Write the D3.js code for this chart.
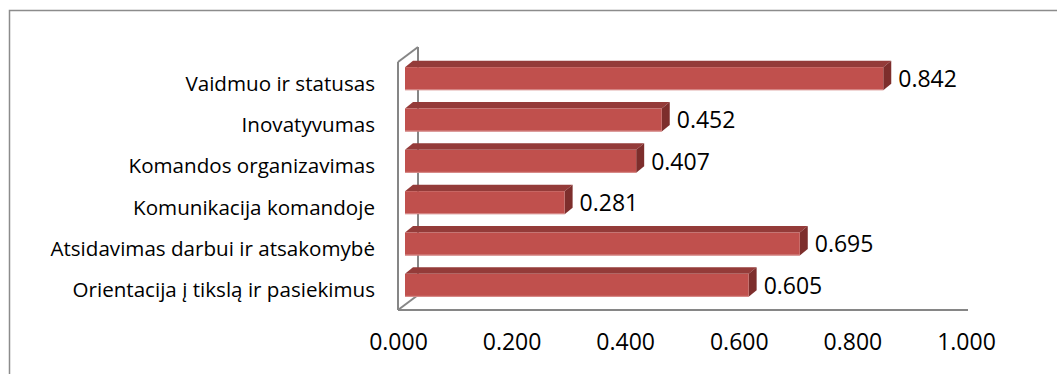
<!DOCTYPE html>
<html>
<head>
<meta charset="utf-8">
<script src="https://cdn.jsdelivr.net/npm/d3@7"></script>
<style>
  html, body { margin: 0; padding: 0; background: #fff; }
  svg { display: block; }
  text { font-family: "Open Sans", Lato, sans-serif; fill: #000; }
</style>
</head>
<body>
<svg id="chart" width="1057" height="374"></svg>
<script>
// Categories listed bottom-to-top, as the series is entered in the sheet
const categories = [
  "Orientacija į tikslą ir pasiekimus",
  "Atsidavimas darbui ir atsakomybė",
  "Komunikacija komandoje",
  "Komandos organizavimas",
  "Inovatyvumas",
  "Vaidmuo ir statusas"
];
const values = [0.605, 0.695, 0.281, 0.407, 0.452, 0.842];
const tickValues = [0, 0.2, 0.4, 0.6, 0.8, 1.0];

const data = categories.map((c, i) => ({ category: c, value: values[i] }));

const svg = d3.select("#chart");

// Front plane of the 3-D plot box
const plot = { left: 398, right: 966, top: 62, bottom: 310 };
// Full depth of the box (receding up and to the right)
const depth = { dx: 20, dy: -15 };
// Bar placement inside the depth
const barFront = { dx: 7, dy: -4 };
const barDepth = { dx: 8, dy: -6.5 };

const x = d3.scaleLinear().domain([0, 1]).range([plot.left, plot.right]);
const y = d3.scaleBand()
  .domain(categories.slice().reverse())
  .range([plot.top, plot.bottom])
  .paddingInner(0.444)
  .paddingOuter(0.222);

const colors = {
  front: "#C0504D",
  top: "#943B39",
  side: "#7D2E2C",
  edge: "#D9908E",
  axis: "#868686",
  border: "#8C8C8C"
};

// Chart area border
svg.append("rect")
  .attr("x", 9.5).attr("y", 10.5)
  .attr("width", 1100).attr("height", 400)
  .attr("fill", "none")
  .attr("stroke", colors.border)
  .attr("stroke-width", 1.5);

// Walls / floor outline of the 3-D box
const axisG = svg.append("g")
  .attr("fill", "none")
  .attr("stroke", colors.axis)
  .attr("stroke-width", 2);

const x0 = x(0);
// front vertical edge
axisG.append("line")
  .attr("x1", x0).attr("y1", plot.top)
  .attr("x2", x0).attr("y2", plot.bottom);
// back vertical edge
axisG.append("line")
  .attr("x1", x0 + depth.dx).attr("y1", plot.top + depth.dy)
  .attr("x2", x0 + depth.dx).attr("y2", plot.bottom + depth.dy);
// top diagonal
axisG.append("line")
  .attr("x1", x0).attr("y1", plot.top)
  .attr("x2", x0 + depth.dx).attr("y2", plot.top + depth.dy);
// floor diagonal
axisG.append("line")
  .attr("x1", x0).attr("y1", plot.bottom)
  .attr("x2", x0 + depth.dx).attr("y2", plot.bottom + depth.dy);
// floor front edge (value axis)
axisG.append("line")
  .attr("x1", x0).attr("y1", plot.bottom)
  .attr("x2", x(1) + 2).attr("y2", plot.bottom);

// Bars
const bars = svg.append("g").selectAll("g.bar")
  .data(data)
  .join("g")
  .attr("class", "bar");

bars.each(function (d) {
  const g = d3.select(this);
  const fx0 = x(0) + barFront.dx;
  const fx1 = x(d.value) + barFront.dx;
  const fy0 = y(d.category) + barFront.dy;
  const fy1 = fy0 + y.bandwidth();
  const bx = barDepth.dx, by = barDepth.dy;

  // top face
  g.append("path")
    .attr("d", `M${fx0},${fy0} L${fx0 + bx},${fy0 + by} L${fx1 + bx},${fy0 + by} L${fx1},${fy0} Z`)
    .attr("fill", colors.top);
  // right end face
  g.append("path")
    .attr("d", `M${fx1},${fy0} L${fx1 + bx},${fy0 + by} L${fx1 + bx},${fy1 + by} L${fx1},${fy1} Z`)
    .attr("fill", colors.side);
  // front face
  g.append("rect")
    .attr("x", fx0).attr("y", fy0)
    .attr("width", fx1 - fx0).attr("height", y.bandwidth())
    .attr("fill", colors.front);
  // light lower edge
  g.append("line")
    .attr("x1", fx0).attr("y1", fy1 - 0.5)
    .attr("x2", fx1).attr("y2", fy1 - 0.5)
    .attr("stroke", colors.edge).attr("stroke-width", 1);

  // value label
  g.append("text")
    .attr("x", fx1 + 15)
    .attr("y", fy0 + y.bandwidth() / 2)
    .attr("dy", "0.36em")
    .attr("font-size", 23)
    .text(d3.format(".3f")(d.value));
});

// Category labels
svg.append("g").selectAll("text")
  .data(categories)
  .join("text")
  .attr("x", 375)
  .attr("y", d => y(d) + y.bandwidth() / 2 + 0.5)
  .attr("dy", "0.36em")
  .attr("text-anchor", "end")
  .attr("font-size", 20.6)
  .text(d => d);

// Value axis tick labels
const axis = d3.axisBottom(x)
  .tickValues(tickValues)
  .tickSize(0)
  .tickPadding(24)
  .tickFormat(d3.format(".3f"));

const axisLabels = svg.append("g")
  .attr("transform", `translate(0,${plot.bottom})`)
  .call(axis);
axisLabels.select(".domain").remove();
axisLabels.selectAll("text")
  .attr("font-size", 23)
  .attr("fill", "#000")
  .style("font-family", "'Open Sans', Lato, sans-serif");
</script>
</body>
</html>
